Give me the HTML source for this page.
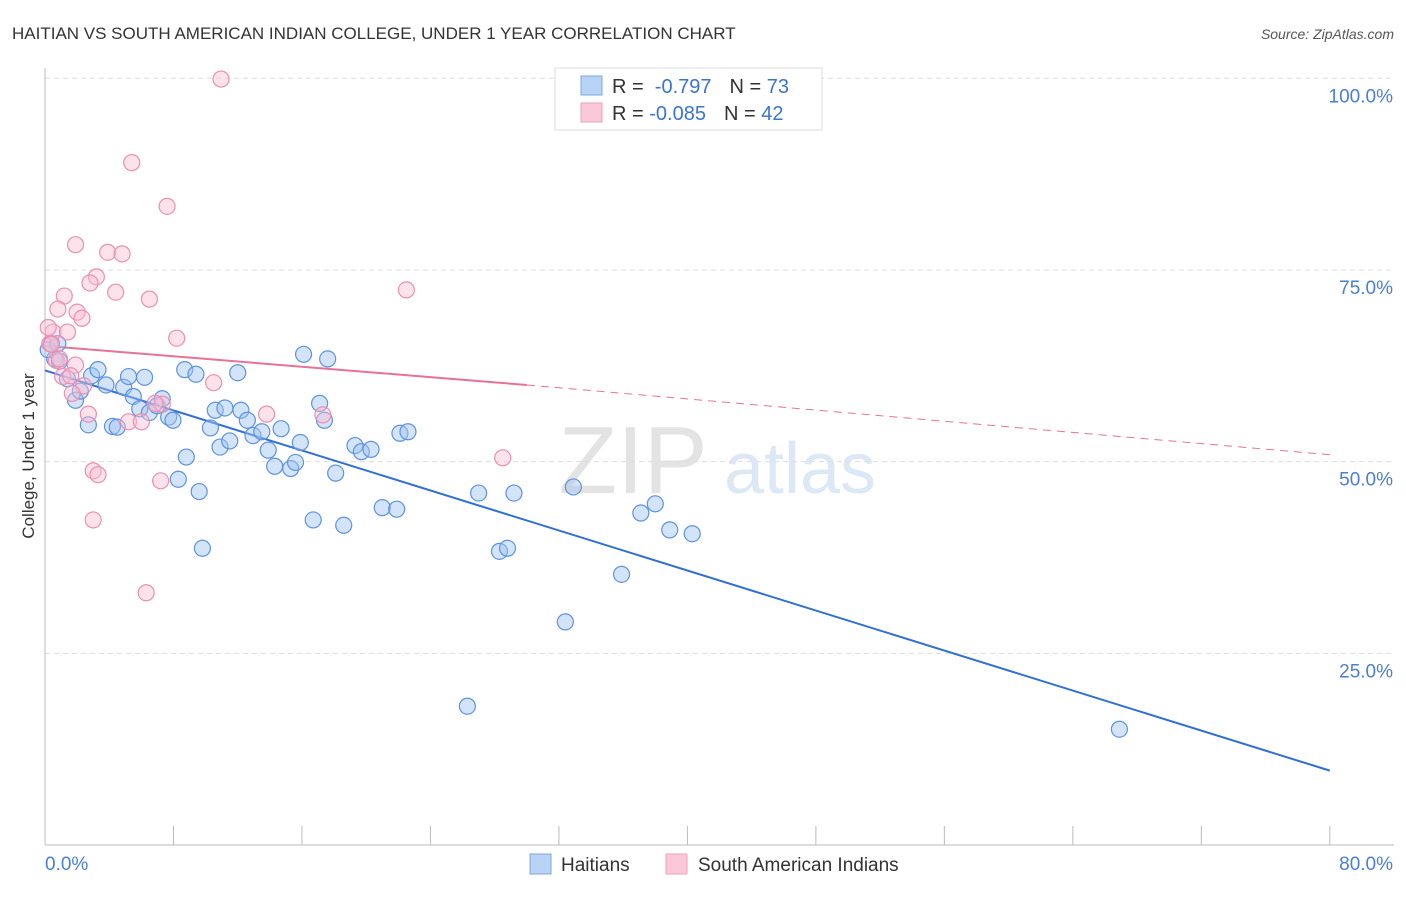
<!DOCTYPE html>
<html><head><meta charset="utf-8"><style>
body{margin:0;background:#fff;font-family:"Liberation Sans",sans-serif;}
svg text{font-family:"Liberation Sans",sans-serif;}
</style></head><body>
<svg id="chart" width="1406" height="892">
<text x="12" y="39" font-size="17" fill="#333">HAITIAN VS SOUTH AMERICAN INDIAN COLLEGE, UNDER 1 YEAR CORRELATION CHART</text>
<text x="1394" y="39" font-size="14" fill="#555" font-style="italic" text-anchor="end">Source: ZipAtlas.com</text>
<text x="633" y="493" font-size="96" fill="#e3e3e3" font-family="Liberation Serif" text-anchor="middle">ZIP</text>
<text x="800" y="493" font-size="72" fill="#dce8f6" text-anchor="middle">atlas</text>
<g id="grid"></g><g id="axes"></g><g id="lines"></g><g id="pts"></g>
<text x="34" y="456" font-size="17" fill="#333" transform="rotate(-90 34 456)" text-anchor="middle">College, Under 1 year</text>
<g>
<rect x="555" y="68" width="267" height="62" fill="#fff" stroke="#ddd"/>
<rect x="581" y="76" width="21" height="19" fill="#b9d3f5" stroke="#7aa7e3"/>
<rect x="581" y="103" width="21" height="19" fill="#fac8d8" stroke="#eea1bb"/>
<text x="612" y="93" font-size="20" fill="#333">R = <tspan fill="#3a74d0">&#160;-0.797</tspan><tspan dx="18" fill="#333">N = </tspan><tspan fill="#3a74d0">73</tspan></text>
<text x="612" y="120" font-size="20" fill="#333">R = <tspan fill="#3a74d0">-0.085</tspan><tspan dx="18" fill="#333">N = </tspan><tspan fill="#3a74d0">42</tspan></text>
</g>
<g>
<rect x="530" y="854" width="21" height="20" fill="#b9d3f5" stroke="#7aa7e3"/>
<text x="561" y="871" font-size="19" fill="#333">Haitians</text>
<rect x="666" y="854" width="21" height="20" fill="#fac8d8" stroke="#eea1bb"/>
<text x="698" y="871" font-size="19" fill="#333">South American Indians</text>
</g>
</svg>
<script>
const blueX=[0.4,0.6,0.9,1.4,1.9,2.2,2.7,2.9,3.3,3.8,4.2,4.5,4.9,5.2,5.5,5.9,6.2,6.5,6.97,7.3,7.7,7.97,8.3,8.8,8.7,9.4,9.6,9.8,10.3,10.6,10.9,11.2,11.5,12.0,12.2,12.6,12.95,13.5,13.9,14.3,14.7,15.3,15.6,15.9,16.1,16.7,17.1,17.4,17.6,18.1,18.6,19.3,19.7,20.3,21.0,21.9,22.1,22.6,26.3,27.0,28.3,28.8,29.2,32.4,32.9,35.9,37.1,38.0,38.9,40.3,66.9,0.2,0.8];
const blueY=[65.4,63.4,63.1,60.8,58.0,59.2,54.8,61.2,62.0,60.0,54.6,54.5,59.7,61.1,58.5,56.9,61.0,56.4,57.3,58.2,55.8,55.4,47.7,50.6,62.0,61.4,46.1,38.7,54.4,56.7,51.9,57.0,52.7,61.6,56.7,55.4,53.4,53.9,51.5,49.4,54.3,49.1,49.9,52.5,64.0,42.4,57.6,55.4,63.4,48.5,41.7,52.1,51.3,51.6,44.0,43.8,53.7,53.9,18.1,45.9,38.3,38.7,45.9,29.1,46.7,35.3,43.3,44.5,41.1,40.6,15.1,64.6,65.4];
const pinkX=[10.96,5.4,7.6,1.9,3.9,4.8,3.2,2.8,1.2,4.4,6.5,22.5,0.8,2.0,2.3,0.5,1.4,8.2,0.3,0.7,1.9,1.1,10.5,2.4,1.7,7.3,6.85,2.7,5.2,6.0,13.8,17.3,3.0,3.3,7.2,28.5,3.0,6.3,0.4,0.9,1.6,0.2];
const pinkY=[99.9,89.0,83.3,78.3,77.3,77.1,74.1,73.3,71.6,72.1,71.2,72.4,69.9,69.5,68.7,66.9,66.9,66.1,65.4,63.2,62.6,61.1,60.3,59.9,58.9,57.5,57.6,56.2,55.2,55.2,56.2,56.1,48.8,48.3,47.5,50.5,42.4,32.9,65.3,63.4,61.2,67.5];
const blueFit=[61.9,9.7], pinkFit=[65.1,60.0,50.9];
const X=v=>45+v*16.06, Y=v=>845-v*7.667;
const NS='http://www.w3.org/2000/svg';
function mk(p,t,a){const e=document.createElementNS(NS,t);for(const k in a)e.setAttribute(k,a[k]);document.getElementById(p).appendChild(e);return e;}
const yt=[25,50,75,100];
yt.forEach(v=>{
 const g=mk('grid','line',{x1:45,x2:1394,y1:Y(v),y2:Y(v),stroke:'#ddd','stroke-dasharray':'5,4'});
 
 
 const t=mk('axes','text',{x:1393,y:Y(v)+24,'font-size':19,fill:'#4a7fd6','text-anchor':'end'});t.textContent=v.toFixed(1)+'%';
 
 
});
mk('axes','line',{x1:45,x2:45,y1:68,y2:845,stroke:'#bbb'});
mk('axes','line',{x1:45,x2:1394,y1:845,y2:845,stroke:'#bbb'});
for(let i=0;i<=10;i++){mk('axes','line',{x1:X(i*8),x2:X(i*8),y1:826,y2:845,stroke:'#bbb'});}
const xl=[['0.0%',45,'start'],['80.0%',1393,'end']];
xl.forEach(a=>{const t=mk('axes','text',{x:a[1],y:870,'font-size':19,fill:'#4a7fd6','text-anchor':a[2]});t.textContent=a[0];
 
 });
let l=mk('lines','line',{x1:X(0),y1:Y(blueFit[0]),x2:X(80),y2:Y(blueFit[1]),stroke:'#2f6fd6','stroke-width':2});


l=mk('lines','line',{x1:X(0),y1:Y(pinkFit[0]),x2:X(30),y2:Y(pinkFit[1]),stroke:'#e8719a','stroke-width':2});


l=mk('lines','line',{x1:X(30),y1:Y(pinkFit[1]),x2:X(80),y2:Y(pinkFit[2]),stroke:'#e8719a','stroke-width':1,'stroke-dasharray':'8,6'});


blueX.forEach((x,i)=>{const c=mk('pts','circle',{cx:X(x),cy:Y(blueY[i]),r:8,fill:'rgba(160,195,240,0.45)',stroke:'#5d92de','stroke-width':1.2});
 
 });
pinkX.forEach((x,i)=>{const c=mk('pts','circle',{cx:X(x),cy:Y(pinkY[i]),r:8,fill:'rgba(248,190,210,0.45)',stroke:'#ec8fb0','stroke-width':1.2});
 
 });
</script>
</body></html>
